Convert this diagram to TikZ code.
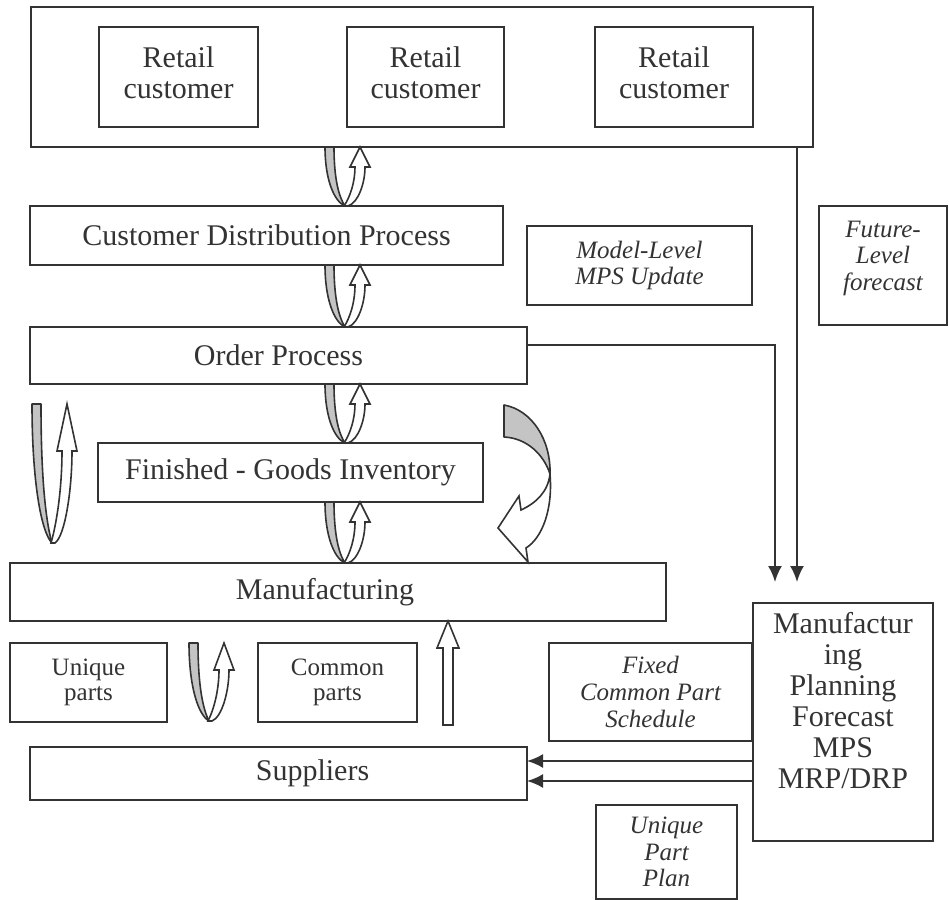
\documentclass[tikz,border=0pt]{standalone}
\usepackage{fontspec}
\setmainfont{Liberation Serif}
\usetikzlibrary{arrows.meta}
\definecolor{ink}{HTML}{333333}
\definecolor{bandgray}{HTML}{C4C4C4}
\begin{document}
\begin{tikzpicture}[x=0.5pt,y=-0.5pt,
  box/.style={draw=ink, line width=1pt, inner sep=0pt, outer sep=0pt, text=ink, align=center,
              font=\fontsize{15}{15.5}\selectfont},
  sz/.style 2 args={minimum width=#1*0.5pt, minimum height=#2*0.5pt},
  ital/.style={font=\fontsize{12.5}{13.3}\selectfont\itshape},
  small/.style={font=\fontsize{12.5}{12.8}\selectfont},
  line/.style={draw=ink, line width=1pt},
  arr/.style={line, -{Latex[length=8pt,width=7pt]}},
  band/.style={fill=bandgray, draw=ink, line width=0.8pt, line join=round},
  hollow/.style={fill=white, draw=ink, line width=0.8pt, line join=miter},
  pics/uarr/.style 2 args={code={
    \path[band] (0,0) -- (9,0) .. controls (9,{0.55*#1}) and (14,{0.85*#1}) .. (20,#1)
       .. controls (9,{0.92*#1}) and (0,{0.55*#1}) .. (0,0) -- cycle;
    \path[hollow] (19,#1) .. controls (25,{0.85*#1}) and (30,{0.6*#1}) .. (30,#2) -- (25,#2)
       -- (35,0) -- (45,#2) -- (40,#2) .. controls (40,{0.62*#1}) and (33,{0.95*#1}) .. (23,#1) -- cycle;
  }}
]
\useasboundingbox (0,0) rectangle (949,900);

% boxes
\node[box, sz={782}{140}] (top) at (422,77) {};
\node[box, sz={159}{100}, text depth=4pt] (r1) at (178.5,77) {Retail\\customer};
\node[box, sz={157}{100}, text depth=4pt] (r2) at (425.5,77) {Retail\\customer};
\node[box, sz={158}{100}, text depth=4pt] (r3) at (674,77) {Retail\\customer};
\node[box, sz={473}{59}] (cdp) at (266.5,235.5) {Customer Distribution Process};
\node[box, sz={225}{79}, ital] (mod) at (639.5,265.5) {Model-Level\\MPS Update};
\node[box, sz={128}{119}, ital, text depth=10pt] (fut) at (883,265.5) {Future-\\Level\\forecast};
\node[box, sz={497}{57}] (ord) at (278.5,355.5) {Order Process};
\node[box, sz={385}{59}] (fgi) at (290.5,472.5) {Finished - Goods Inventory};
\node[box, sz={656}{58}] (man) at (338,592) {Manufacturing\hspace*{13pt}};
\node[box, sz={180}{238}, text depth=22pt] (mp) at (843,722)
  {Manufactur\\ing\\Planning\\Forecast\\MPS\\MRP/DRP};
\node[box, sz={157}{79}, small] (uq) at (88.5,682.5) {Unique\\parts};
\node[box, sz={159}{79}, small] (cm) at (337.5,682.5) {Common\\parts};
\node[box, sz={203}{98}, ital] (fix) at (650.5,692) {Fixed\\Common Part\\Schedule};
\node[box, sz={497}{53}] (sup) at (278.5,773.5) {\hspace*{34pt}Suppliers};
\node[box, sz={141}{94}, ital] (upp) at (666.5,852) {Unique\\Part\\Plan};

% connectors
\coordinate (c1) at (797,582);
\coordinate (c2) at (775,582);
\draw[arr] (top.south -| c1) -- (c1);
\draw[arr] (ord.east |- 0,345) -| (c2);
\draw[arr] (mp.west |- 0,761) -- (sup.east |- 0,761);
\draw[arr] (mp.west |- 0,781) -- (sup.east |- 0,781);

% U-shaped two-way arrows
\pic at (325,147) {uarr={59}{20}};
\pic at (325,265) {uarr={62}{20}};
\pic at (325,384) {uarr={59}{20}};
\pic at (325,502) {uarr={61}{20}};
\pic at (32,404) {uarr={139}{47}};
\pic at (189,643) {uarr={78}{27}};

% straight hollow arrow
\path[hollow] (443,725) -- (443,648) -- (437,648) -- (448,621) -- (459,648) -- (453,648) -- (453,725) -- cycle;

% curved arrow on the right
\path[band] (504,405) .. controls (532,410) and (551,440) .. (550,474)
   .. controls (544,455) and (527,438) .. (504,437) -- cycle;
\path[hollow] (550,474) .. controls (553,510) and (542,538) .. (526,548) -- (528,562)
   -- (498,528) -- (519,496) -- (521,510) .. controls (536,503) and (548,492) .. (550,474) -- cycle;
\end{tikzpicture}
\end{document}
